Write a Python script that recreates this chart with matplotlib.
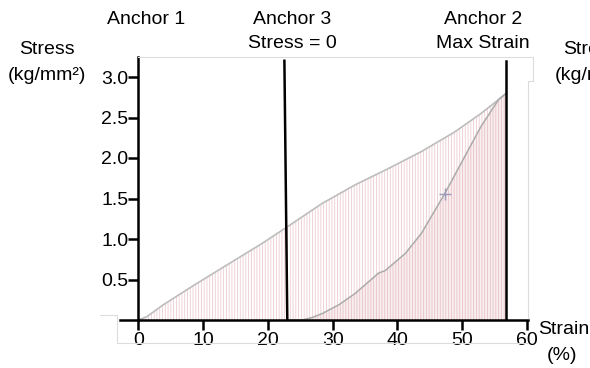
import matplotlib
matplotlib.use("Agg")
import matplotlib.pyplot as plt
from matplotlib.lines import Line2D

plt.rcParams['font.family'] = ['Liberation Sans', 'DejaVu Sans']
plt.rcParams['hatch.linewidth'] = 0.6

# Loading curve (strain %, stress kg/mm^2)
strain_load = [0, 1.3, 3.8, 9.0, 14.1, 19.2, 22.8, 28.4, 33.5, 38.6, 43.7, 48.8, 52.9, 55.6, 56.8]
stress_load = [0, 0.04, 0.185, 0.45, 0.70, 0.95, 1.14, 1.44, 1.67, 1.87, 2.08, 2.32, 2.55, 2.72, 2.80]

# Unloading curve
strain_unload = [23.0, 25.3, 26.8, 28.4, 31.0, 33.5, 37.1, 38.1, 41.2, 43.7, 47.3, 50.4, 52.9, 55.6, 56.8]
stress_unload = [0.0, 0.0, 0.03, 0.08, 0.19, 0.33, 0.58, 0.61, 0.82, 1.07, 1.56, 2.02, 2.39, 2.72, 2.80]

# Mid-point marker on the unloading curve
marker_strain = [47.3]
marker_stress = [1.56]

# Anchor lines (strain at bottom / top)
anchor3_strain = [23.0, 22.55]
anchor2_strain = [56.8, 56.8]
anchor_stress = [0.0, 3.2]

x_ticks = [0, 10, 20, 30, 40, 50, 60]
y_ticks = [0.5, 1.0, 1.5, 2.0, 2.5, 3.0]

FS = 14
W, H = 590, 368
fig = plt.figure(figsize=(W / 100, H / 100), dpi=100)
ax = fig.add_axes([119.5 / W, 48 / H, 408.5 / W, 263.25 / H])
ax.set_xlim(-2.9, 60.15)
ax.set_ylim(0, 3.25)

# Hatched fills
ax.fill_between(strain_load, 0, stress_load, facecolor='white',
                edgecolor='#ecccd0', hatch='||||||', linewidth=0)
ax.fill_between(strain_unload, 0, stress_unload, facecolor='#f9eef0',
                edgecolor='#e8c2c6', hatch='||||||', linewidth=0)

ax.plot(strain_load, stress_load, color='#bdbdbd', lw=1.2)
ax.plot(strain_unload, stress_unload, color='#ababab', lw=1.1)
ax.plot(marker_strain, marker_stress, marker='+', color='#9a9ab8', ms=8, mew=1.0)

ax.plot(anchor3_strain, anchor_stress, color='black', lw=1.8)
ax.plot(anchor2_strain, anchor_stress, color='black', lw=1.8)

for s in ['top', 'right']:
    ax.spines[s].set_visible(False)
ax.spines['left'].set_position(('data', 0))
ax.spines['left'].set_linewidth(1.8)
ax.spines['bottom'].set_linewidth(1.8)

ax.set_xticks(x_ticks)
ax.set_yticks(y_ticks)
ax.set_xticklabels([str(v) for v in x_ticks])
ax.set_yticklabels([f"{v:.1f}" for v in y_ticks])
ax.tick_params(axis='x', length=7, width=1.8, pad=1.5, labelsize=FS)
ax.tick_params(axis='y', length=7, width=1.8, pad=0, labelsize=FS)
ax.set_facecolor('none')

def ftxt(x, y, s, **kw):
    fig.text(x / W, 1 - y / H, s, fontsize=FS, va='center', **kw)

ftxt(146, 20, 'Anchor 1', ha='center')
ftxt(292, 20, 'Anchor 3', ha='center')
ftxt(292, 43, 'Stress = 0', ha='center')
ftxt(483, 20, 'Anchor 2', ha='center')
ftxt(483, 43, 'Max Strain', ha='center')
ftxt(47, 50, 'Stress', ha='center')
ftxt(47, 76, '(kg/mm²)', ha='center')
ftxt(563, 50, 'Stress', ha='left')
ftxt(555, 76, '(kg/mm²)', ha='left')
ftxt(538, 330, 'Strain', ha='left')
ftxt(562, 356, '(%)', ha='center')

# Faint frame lines around the plotting region
gray = '#dcdcdc'
def fline(xs, ys):
    fig.add_artist(Line2D([x / W for x in xs], [1 - y / H for y in ys],
                          color=gray, lw=0.8))

fline([138, 533, 533, 528, 528], [57, 57, 81, 81, 318])
fline([100, 117, 117, 528], [315, 315, 343, 343])

fig.savefig('out.png', dpi=100)
